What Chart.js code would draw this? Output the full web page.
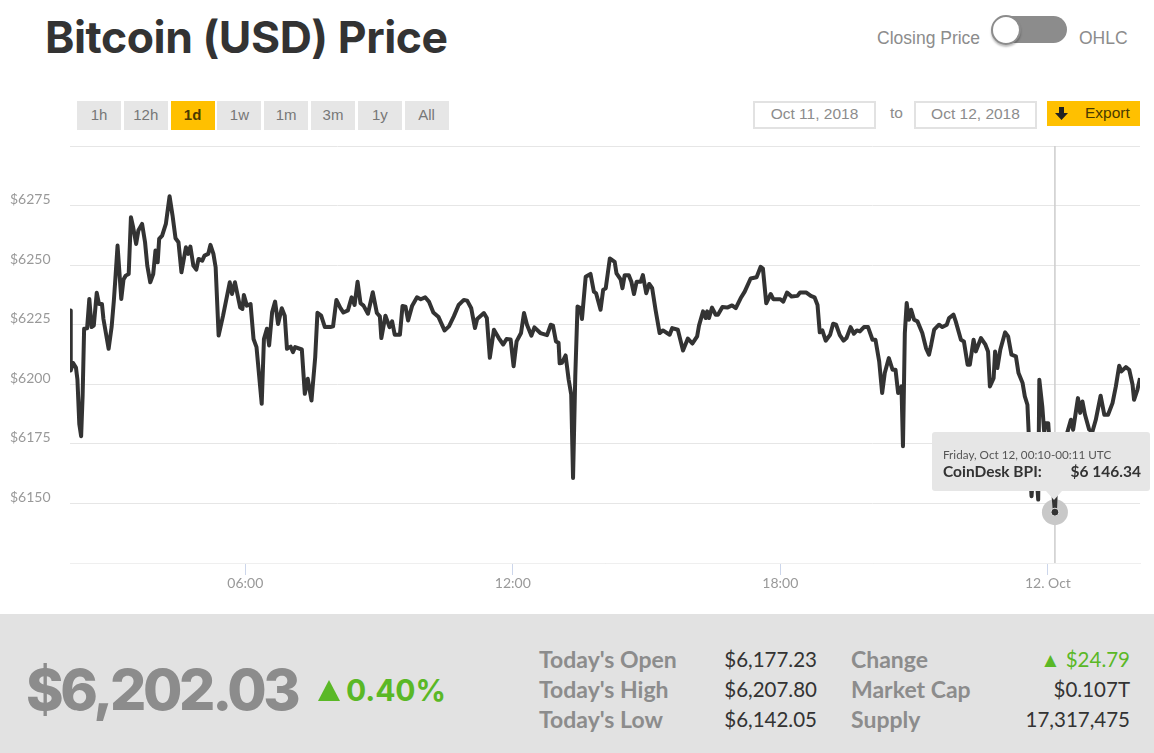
<html>
<head>
  <title>Bitcoin (USD) Price</title>
  <script src="https://cdn.jsdelivr.net/npm/chart.js"></script>
  <style>
    html, body { margin: 0; padding: 0; background: white; overflow: hidden; }
    body { width: 1154px; height: 753px; position: relative; font-family: Lato, sans-serif; color: #8c8c8c; }
    .abs { position: absolute; white-space: nowrap; }
    #titolo { left: 45px; top: 9px; font: 700 44.5px/56px Inter, sans-serif; color: #333; letter-spacing: -0.45px; }
    .bottone { position: absolute; top: 101px; width: 44px; height: 29px; line-height: 27px; text-align: center;
      background: #e6e6e6; color: #777; font: 15px/27px "Liberation Sans", sans-serif; }
    .attivo { background: #ffc000; color: #4a3a00; font-weight: 700; }
    .data { position: absolute; top: 101px; width: 119px; height: 24px; border: 2px solid #e2e2e2;
      text-align: center; font: 15.5px/21px "Liberation Sans", sans-serif; color: #8c8c8c; }
    #grafico { position: absolute; left: 0; top: 130px; width: 1154px; height: 480px; }
    #tooltip { left: 932px; top: 432px; width: 218px; height: 59px; background: #e6e6e6; border-radius: 3px; color: #333; }
    #freccia { left: 1046px; top: 491px; width: 0; height: 0; border-left: 8px solid transparent;
      border-right: 8px solid transparent; border-top: 9px solid #e6e6e6; }
    #fascia { left: 0; top: 614px; width: 1154px; height: 139px; background: #e2e2e2; }
    .etichetta { font-size: 23px; font-weight: 700; color: #8c8c8c; }
    .valore { font-size: 20.5px; color: #333; text-align: right; }
  </style>
</head>
<body>
  <div id="titolo" class="abs">Bitcoin (USD) Price</div>

  <div class="abs" style="left:877px;top:28px;font:17.5px 'Liberation Sans', sans-serif;">Closing Price</div>
  <div class="abs" style="left:992px;top:16px;width:75px;height:27px;border-radius:14px;background:#8c8c8c;"></div>
  <div class="abs" style="left:991px;top:15px;width:26px;height:26px;border-radius:50%;background:white;border:2px solid #8c8c8c;box-shadow:0 2px 2px rgba(0,0,0,0.25);"></div>
  <div class="abs" style="left:1079px;top:28px;font:17.5px 'Liberation Sans', sans-serif;">OHLC</div>

  <div id="bottoni"></div>

  <div class="data" style="left:753px;">Oct 11, 2018</div>
  <div class="abs" style="left:890px;top:104px;font:15.5px 'Liberation Sans', sans-serif;">to</div>
  <div class="data" style="left:914px;">Oct 12, 2018</div>
  <div class="abs" style="left:1047px;top:101px;width:93px;height:25px;background:#ffc000;"></div>
  <svg class="abs" style="left:1054px;top:106px;" width="15" height="15"><path d="M5 1h5v6h4l-6.500 7l-6.500-7h4z" fill="#222"/></svg>
  <div class="abs" style="left:1085px;top:104px;font:15.5px 'Liberation Sans', sans-serif;color:#4a3a00;">Export</div>

  <canvas id="grafico" width="1154" height="480"></canvas>

  <div id="tooltip" class="abs">
    <div class="abs" style="left:11px;top:15px;font-size:11.700px;color:#555;">Friday, Oct 12, 00:10-00:11 UTC</div>
    <div class="abs" style="left:11px;top:30px;font-size:15.500px;font-weight:700;">CoinDesk BPI:</div>
    <div class="abs" style="right:9px;top:30px;font-size:15.500px;font-weight:700;">$6 146.34</div>
  </div>
  <div id="freccia" class="abs"></div>

  <div id="fascia" class="abs"></div>
  <div class="abs" style="left:26px;top:650px;font:800 57px/80px Inter, sans-serif;letter-spacing:-3.300px;color:#8c8c8c;">$6,202.03</div>
  <div class="abs" style="left:318px;top:680px;width:0;height:0;border-left:11px solid transparent;border-right:11px solid transparent;border-top:0;border-bottom:21px solid #5ab826;"></div>
  <div class="abs" style="left:346px;top:670px;font:700 30px/40px Inter, sans-serif;letter-spacing:-0.1px;color:#5ab826;">0.40%</div>

  <div id="tabella"></div>

  <script>
    //etichette e valori
    var bottoni = ["1h", "12h", "1d", "1w", "1m", "3m", "1y", "All"];
    var righeSinistra = [["Today's Open", "$6,177.23"], ["Today's High", "$6,207.80"], ["Today's Low", "$6,142.05"]];
    var righeDestra = [["Change", "$24.79"], ["Market Cap", "$0.107T"], ["Supply", "17,317,475"]];

    //minuti dalla mezzanotte dell'11 ottobre
    var minuti = [
      124,125,128,132,134,136.5,139,141,143,147,150,153,156,160,163,167,169,176,180,183,185,188,193,196,
      199,203,206,209,213,216,221,225,228,232,236,239,242,244,248,253,258,262,266,270,274,280,283,286,
      290,294,297,302,305,310,313,317,320,324,330,339,342,346,353,356,358,362,367,371,375,382,385,389,
      392,396,400,404,409,413,416,421,424,427,436,440,444,449,454,457,462,467,
      474.5,478,482.5,488,492,498,503,507,511,515,519,525,531.5,537,541,543,548.5,554,557.5,561,568,571.5,575.5,579,
      584.5,591,596,602,607,613,620,628,634,640.5,647,654,658.5,664,669,672,681,685,689,694.5,701,707,711.5,717,
      721,725,731,735,739,745,749,757,766,771,774,778,781.5,783,786,791,795,798.5,801,804,807,811,813,818,
      824.5,829,832,838,841.5,845,850.5,857,859.5,865,867.5,870.5,876,879.5,883,886.5,892,895,899.5,903.5,907.5,912,917.5,922,
      931,934.5,942,949,955.5,961.5,968,970.5,976,979.5,981.5,984,988,993,996,1002,1008.5,1015,1020,1026.5,1032,1040,1048,1053.5,
      1056.5,1061,1067,1070.5,1080,1084,1089,1095,1103,1106.5,1115,1121,1126,1130,1133,1136.5,1141,1147,1151,1155,1160,1165,1169,1174.5,
      1179,1183,1187,1192.5,1198,1204,1208,1213,1217,1220.5,1226,1231,1235,1238.5,1243,1245,1247.5,1250,1253,1256,1260,1264.5,1271,1276,
      1280,1283,1287,1293.5,1298,1304,1307,1313,1316,1323,1327,1332,1335,1340,1343,1350,1356,1359.5,1362,1367,1369,1372,1376,1382.5,
      1386.5,1391,1397,1400.5,1406,1409,1412.5,1418,1422.5,1427,1428.5,1432.5,1435,1437,1440.5,1444,1449.5,1452,1466,1471,1474,1480.5,1483.5,1486.5,
      1490,1495.5,1500,1504.5,1511,1516,1521,1527,1531.5,1536,1539,1545,1549.5,1554,1556,1560.5,1564
    ];
    var prezzi = [
      6231,6205.8,6209,6207,6202,6183.4,6178.2,6195.3,6223.3,6223.5,6235.8,6224,6224.6,6238.4,6233.7,6233.7,6227.4,6214.9,6224,6235,6244,6258.2,6235.8,6244,
      6245.6,6246.3,6270.1,6265.9,6258.9,6264.5,6267.3,6259.6,6249.8,6242.8,6246.3,6256.1,6251.2,6261,6262.4,6267.3,6278.9,6270.8,6261.3,6259.6,6247,6257.5,6254.7,6257.8,
      6249.8,6248.1,6252.6,6251.9,6254,6254.7,6258.5,6254.7,6249.1,6220.5,6228.8,6242.8,6237.9,6242.8,6232.3,6231.6,6237.5,6233,6233.7,6219,6215.6,6191.8,6219,6223.3,
      6216.3,6230.2,6234.7,6225.3,6231.9,6228.8,6214.9,6215.8,6213.5,6215.6,6214.6,6196,6202.3,6193.2,6211.4,6230,6228.8,6224,
      6224,6224.3,6235.4,6232,6230.1,6231,6236.5,6233.3,6243,6234,6233,6229.6,6238.6,6229.9,6228.5,6219.4,6228.8,6224,6226.4,6220.8,6220.8,6232.9,6232.6,6226.8,
      6233,6236.5,6235.7,6236.5,6234.7,6230.1,6228.2,6222.6,6224.3,6228.5,6233.3,6235.4,6235.1,6231.9,6223.6,6227.4,6229.9,6227.8,6211.1,6222.9,6219.4,6216.7,6219,6218.8,
      6207.6,6218,6221.5,6229.9,6225,6220.4,6223.9,6221.5,6220.6,6225,6224.6,6218,6217.4,6208.8,6209,6212.1,6202.1,6195.8,6160.7,6203.5,6232.6,6232,6227.4,6245.1,
      6246.3,6238.9,6238.2,6231.3,6239.6,6240.3,6252.8,6251.4,6246.5,6244,6240.3,6245.8,6245.8,6243,6237.9,6243,6243,6245.8,6238.2,6242.1,6240.3,6231.3,6221.5,6222.6,
      6220.8,6223.6,6222.9,6214.2,6219.2,6217.1,6220.1,6224.6,6230.6,6227.8,6230.6,6227.8,6232.2,6229.2,6229.2,6232.4,6232.2,6233.1,6232,6236.1,6238.9,6244.4,6244.9,6249.3,
      6248.6,6234,6237.9,6235.7,6235.7,6234.7,6238.5,6236.8,6237.1,6238.5,6238.5,6237.1,6236.5,6233.3,6221.8,6222.6,6218.3,6220.8,6225.4,6225,6220.6,6218.3,6219.4,6224,
      6221.2,6222.6,6222.2,6224,6224,6218.7,6218.7,6209.6,6196.3,6204.7,6211,6206.1,6206.1,6196.3,6199.1,6174,6221.5,6234.1,6227.1,6231.3,6227.1,6226.4,6221.5,6215.2,
      6212.4,6216.6,6222.9,6225,6224,6225,6227.8,6229.2,6226.4,6218.7,6218,6208.2,6208.2,6218.7,6213.8,6219.4,6216.6,6213.8,6199.1,6202.6,6213.8,6206.8,6214.5,6221.8,
      6220.1,6212.4,6211.7,6204.7,6200.5,6194.9,6191.4,6153,6172.6,6151.6,6201.9,6190.7,6180.2,6183.7,6183.7,6167,6146.34,6165,6179.6,6185.1,6180.9,6194.2,6188,6192.8,
      6187.2,6181,6180.2,6185.1,6195.2,6187.2,6187.2,6192.1,6199.1,6207.8,6205.4,6207.2,6206.1,6199.8,6193.5,6197.7,6202.6
    ];

    //assi
    var tickMinuti = [360, 720, 1080, 1440];
    var tickOre = ["06:00", "12:00", "18:00", "12. Oct"];
    var tickPrezzi = [6150, 6175, 6200, 6225, 6250, 6275];
    var inizio = 124;
    var fine = 1564;
    var prezzoMin = 6125;
    var prezzoMax = 6300;

    //punto evidenziato dal tooltip
    var minutoAttivo = 1449.5;
    var prezzoAttivo = 6146.34;

    //bottoni del periodo
    var contBottoni = document.getElementById("bottoni");
    bottoni.forEach(function (testo, i) {
      var b = document.createElement("div");
      b.className = "bottone" + (testo == "1d" ? " attivo" : "");
      b.style.left = (77 + i * 46.8) + "px";
      b.textContent = testo;
      contBottoni.appendChild(b);
    });

    //tabella in basso
    function scriviRighe(righe, xEtichetta, xFine) {
      var cont = document.getElementById("tabella");
      righe.forEach(function (riga, i) {
        var top = 645 + i * 30;
        var e = document.createElement("div");
        e.className = "abs etichetta";
        e.style.left = xEtichetta + "px";
        e.style.top = top + "px";
        e.textContent = riga[0];
        cont.appendChild(e);
        var v = document.createElement("div");
        v.className = "abs valore";
        v.style.right = (1154 - xFine) + "px";
        v.style.top = (top + 2) + "px";
        v.textContent = riga[1];
        if (riga[0] == "Change") {
          v.style.color = "#5ab826";
          v.textContent = "\u25B2 " + riga[1];
        }
        cont.appendChild(v);
      });
    }
    scriviRighe(righeSinistra, 539, 817);
    scriviRighe(righeDestra, 851, 1130);

    var serie = minuti.map(function (m, i) {
      return { x: m, y: prezzi[i] };
    });

    new Chart(document.getElementById("grafico"), {
      type: "line",
      data: {
        datasets: [
          { //puntino scuro
            data: [{ x: minutoAttivo, y: prezzoAttivo }],
            pointRadius: 4, pointBackgroundColor: "#333", pointBorderColor: "#e6e6e6", pointBorderWidth: 1, showLine: false, order: 0
          },
          { //alone del punto
            data: [{ x: minutoAttivo, y: prezzoAttivo }],
            pointRadius: 13, pointBackgroundColor: "#c8c8c8", pointBorderWidth: 0, showLine: false, order: 2
          },
          { //linea del prezzo
            data: serie,
            borderColor: "#333", borderWidth: 4, pointRadius: 0, tension: 0, borderJoinStyle: "round", order: 1
          },
          { //linea verticale del crosshair
            data: [{ x: minutoAttivo, y: prezzoMin }, { x: minutoAttivo, y: prezzoMax }],
            borderColor: "#cccccc", borderWidth: 1.5, pointRadius: 0, order: 3
          }
        ]
      },
      options: {
        responsive: false,
        animation: false,
        layout: { padding: { left: 10, right: 14, top: 16, bottom: 0 } },
        plugins: { legend: { display: false }, tooltip: { enabled: false } },
        scales: {
          x: {
            type: "linear",
            min: inizio,
            max: fine,
            afterBuildTicks: function (asse) {
              asse.ticks = tickMinuti.map(function (m) { return { value: m }; });
            },
            afterFit: function (asse) { asse.height = 47; },
            ticks: {
              color: "#999",
              font: { family: "Lato", size: 14 },
              maxRotation: 0,
              autoSkip: false,
              padding: 0,
              callback: function (v) { return tickOre[tickMinuti.indexOf(v)]; }
            },
            grid: { drawOnChartArea: false, drawTicks: true, tickLength: 12, tickColor: "#ccd6eb" },
            border: { color: "#efefef" }
          },
          y: {
            min: prezzoMin,
            max: prezzoMax,
            afterFit: function (asse) { asse.width = 60; },
            ticks: {
              stepSize: 25,
              color: "#999",
              font: { family: "Lato", size: 14 },
              crossAlign: "far",
              labelOffset: -6,
              padding: 0,
              autoSkip: false,
              callback: function (v) { return tickPrezzi.indexOf(v) >= 0 ? "$" + v : ""; }
            },
            grid: { color: "#e6e6e6", drawTicks: false },
            border: { display: false }
          }
        }
      }
    });
  </script>
</body>
</html>
